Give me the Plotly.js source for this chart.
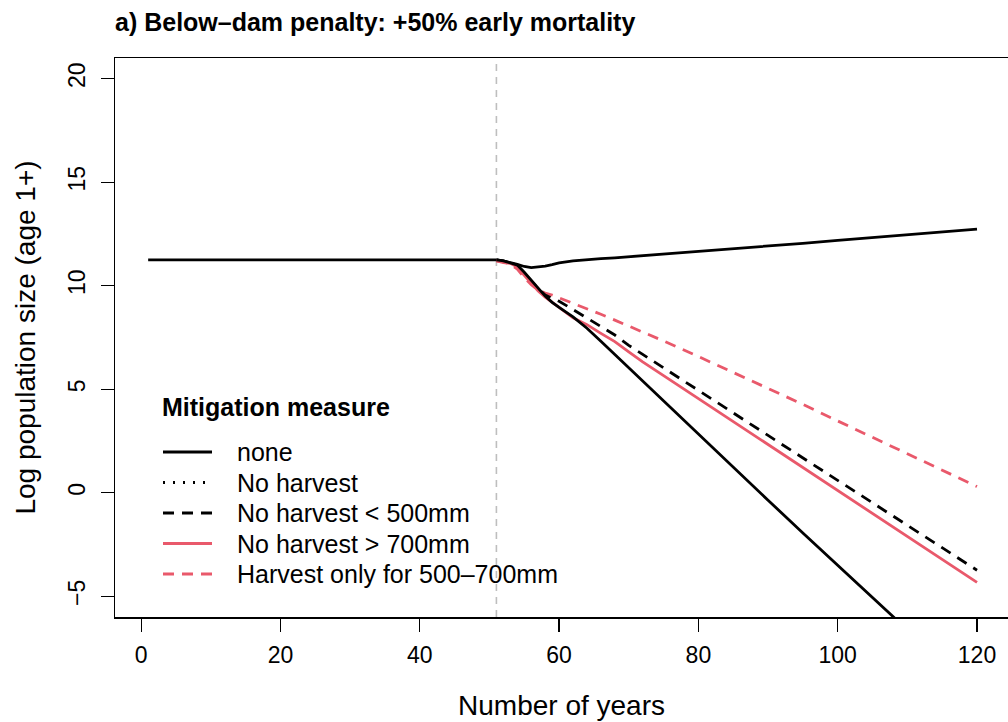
<!DOCTYPE html>
<html>
<head>
<meta charset="utf-8">
<script src="https://cdn.plot.ly/plotly-3.0.1.min.js"></script>
<style>
  html, body { margin: 0; padding: 0; background: #ffffff; }
  #chart { width: 1008px; height: 722px; }
</style>
</head>
<body>
<div id="chart"></div>
<script>
// Pre-dam period: all scenarios share the same equilibrium population
const baselineYears = [1, 51];
const baselineLog = [11.25, 11.25];

// Year the dam is built
const damYear = 51;

// Post-dam years for the projected trajectories
const years = [51, 52, 53, 54, 55, 56, 57, 58, 59, 60, 62, 64, 66, 68, 70, 72, 75, 80, 85, 90, 95, 100, 105, 110, 115, 120];

// Log population size (age 1+) by mitigation measure
const noneLog = [11.25, 11.2, 11.1, 11.0, 10.65, 10.25, 9.85, 9.5, 9.2, 8.95, 8.5, 7.95, 7.32, 6.68, 6.02, 5.36, 4.4, 2.8, 1.22, -0.36, -1.94, -3.52, -5.07, -6.62, -8.17, -9.72];
const noHarvestLog = [11.25, 11.2, 11.12, 11.03, 10.93, 10.88, 10.9, 10.95, 11.02, 11.1, 11.2, 11.27, 11.31, 11.35, 11.4, 11.45, 11.53, 11.66, 11.79, 11.92, 12.05, 12.19, 12.32, 12.46, 12.59, 12.73];
const noHarvestBelow500Log = [11.25, 11.2, 11.1, 10.95, 10.6, 10.2, 9.85, 9.55, 9.38, 9.25, 8.85, 8.45, 8.05, 7.62, 7.12, 6.68, 6.03, 4.94, 3.86, 2.77, 1.69, 0.6, -0.49, -1.57, -2.66, -3.74];
const noHarvestAbove700Log = [11.2, 11.12, 11.08, 10.9, 10.5, 10.1, 9.75, 9.45, 9.18, 8.95, 8.45, 8.12, 7.7, 7.3, 6.8, 6.32, 5.66, 4.55, 3.44, 2.33, 1.22, 0.11, -1.0, -2.11, -3.22, -4.33];
const harvest500to700Log = [11.2, 11.15, 11.05, 10.8, 10.4, 10.05, 9.8, 9.65, 9.55, 9.42, 9.16, 8.9, 8.62, 8.34, 8.06, 7.77, 7.33, 6.58, 5.82, 5.05, 4.27, 3.47, 2.67, 1.86, 1.06, 0.3];

// Legend labels
const legendTitle = "Mitigation measure";
const measureNames = ["none", "No harvest", "No harvest < 500mm", "No harvest > 700mm", "Harvest only for 500\u2013700mm"];

const black = "#000000";
const red = "#E9596B";
const lineWidth = 2.8;
const dashPattern = "11px,8px";
const dotPattern = "2px,8px";

const traces = [
  // Shared pre-dam trajectory
  { x: baselineYears, y: baselineLog, mode: "lines", name: measureNames[0],
    line: { color: black, width: lineWidth }, showlegend: false },
  // Projected trajectories after the dam
  { x: years, y: noHarvestLog, mode: "lines", name: measureNames[1],
    line: { color: black, width: lineWidth }, showlegend: false },
  { x: years, y: harvest500to700Log, mode: "lines", name: measureNames[4],
    line: { color: red, width: lineWidth, dash: dashPattern }, showlegend: false },
  { x: years, y: noHarvestBelow500Log, mode: "lines", name: measureNames[2],
    line: { color: black, width: lineWidth, dash: dashPattern }, showlegend: false },
  { x: years, y: noHarvestAbove700Log, mode: "lines", name: measureNames[3],
    line: { color: red, width: lineWidth }, showlegend: false },
  { x: years, y: noneLog, mode: "lines", name: measureNames[0],
    line: { color: black, width: lineWidth }, showlegend: false },
];

// Plot area in pixels, used to place the legend block
const plotLeft = 115, plotTop = 58, plotWidth = 893, plotHeight = 559;
const toPaperX = px => (px - plotLeft) / plotWidth;
const toPaperY = py => 1 - (py - plotTop) / plotHeight;

// Legend block: title, then one row per mitigation measure
const legendStyles = [
  { color: black, dash: "solid" },
  { color: black, dash: dotPattern },
  { color: black, dash: dashPattern },
  { color: red, dash: "solid" },
  { color: red, dash: dashPattern },
];
const legendTitleX = 160, legendTitleY = 407;
const legendFirstRowY = 452;
const legendRowGap = 30.5;
const legendLineX0 = 163, legendLineX1 = 212, legendTextX = 235;

const fontFamily = "Liberation Sans, Arial, Helvetica, sans-serif";

const annotations = [{
  xref: "paper", yref: "paper",
  x: toPaperX(legendTitleX), y: toPaperY(legendTitleY),
  xanchor: "left", yanchor: "middle", showarrow: false,
  text: "<b>" + legendTitle + "</b>",
  font: { family: fontFamily, size: 25, color: "#000000" }
}];

const shapes = [
  // Dam construction year
  { type: "line", xref: "x", yref: "paper", x0: damYear, x1: damYear, y0: 0, y1: 1,
    line: { color: "#BEBEBE", width: 1.6, dash: "7px,6px" }, layer: "below" }
];

measureNames.forEach((name, i) => {
  const rowY = legendFirstRowY + i * legendRowGap;
  shapes.push({
    type: "line", xref: "paper", yref: "paper",
    x0: toPaperX(legendLineX0), x1: toPaperX(legendLineX1),
    y0: toPaperY(rowY), y1: toPaperY(rowY),
    line: { color: legendStyles[i].color, width: lineWidth, dash: legendStyles[i].dash }
  });
  annotations.push({
    xref: "paper", yref: "paper",
    x: toPaperX(legendTextX), y: toPaperY(rowY),
    xanchor: "left", yanchor: "middle", showarrow: false,
    text: name,
    font: { family: fontFamily, size: 25, color: "#000000" }
  });
});

const layout = {
  width: 1008,
  height: 722,
  paper_bgcolor: "#ffffff",
  plot_bgcolor: "#ffffff",
  margin: { l: plotLeft, r: 0, t: plotTop, b: 722 - plotTop - plotHeight, pad: 0 },
  font: { family: fontFamily, color: "#000000", size: 22 },
  showlegend: false,
  title: {
    text: "<b>a) Below\u2013dam penalty: +50% early mortality</b>",
    xref: "container", x: 115 / 1008, xanchor: "left",
    yref: "container", y: 1 - 22 / 722, yanchor: "middle",
    font: { family: fontFamily, size: 25, color: "#000000" }
  },
  xaxis: {
    range: [-3.76, 124.45],
    tickvals: [0, 20, 40, 60, 80, 100, 120],
    ticks: "outside", ticklen: 13, tickwidth: 1.3, tickcolor: "#000000",
    ticklabelstandoff: 4,
    tickfont: { size: 23 },
    showgrid: false, zeroline: false,
    showline: true, mirror: true, linecolor: "#000000", linewidth: 1.5,
    title: { text: "Number of years", font: { size: 28 }, standoff: 28 }
  },
  yaxis: {
    range: [-6, 21],
    tickvals: [-5, 0, 5, 10, 15, 20],
    ticks: "outside", ticklen: 13, tickwidth: 1.3, tickcolor: "#000000",
    tickangle: -90,
    ticklabelstandoff: 6,
    tickfont: { size: 23 },
    showgrid: false, zeroline: false,
    showline: true, mirror: false, linecolor: "#000000", linewidth: 1.5,
    title: { text: "Log population size (age 1+)", font: { size: 28 }, standoff: 20 }
  },
  shapes: shapes,
  annotations: annotations
};

Plotly.newPlot("chart", traces, layout, { staticPlot: true, displayModeBar: false });
</script>
</body>
</html>
